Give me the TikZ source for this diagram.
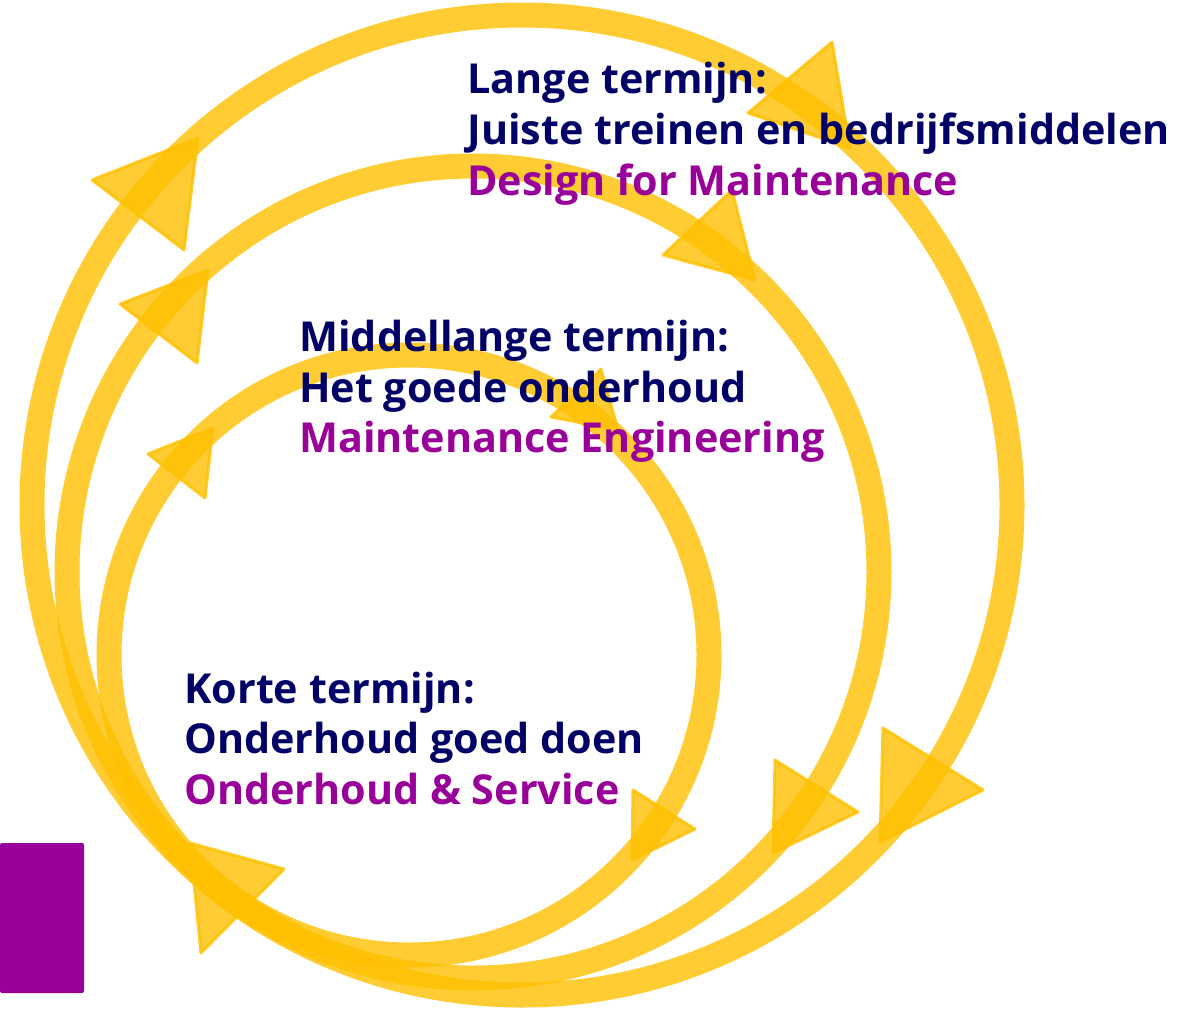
\documentclass[tikz,border=0pt]{standalone}
\usepackage{fontspec}
\setmainfont{Open Sans}
\usetikzlibrary{positioning}
\definecolor{ringyellow}{HTML}{FFC000}
\definecolor{termnavy}{HTML}{000066}
\definecolor{termpurple}{HTML}{990099}

\begin{document}
\begin{tikzpicture}[x=0.02cm, y=-0.02cm,
  ring/.style={draw=ringyellow, draw opacity=0.8, line width=0.5cm},
  pointer/.style={fill=ringyellow, draw=ringyellow, fill opacity=0.8, draw opacity=0.8, line width=0.06cm, line join=round},
  termline/.style={anchor=base west, inner sep=0pt, font=\bfseries\fontsize{23.5pt}{28.9pt}\selectfont}]
  \useasboundingbox (0,0) rectangle (1183,1011);

  % centres of the three cycles
  \coordinate (outer) at (522,505);
  \coordinate (middle) at (473,572);
  \coordinate (inner) at (409,655);

  \draw[ring] (outer) circle[radius=490];
  \draw[ring] (middle) circle[radius=406];
  \draw[ring] (inner) circle[radius=300];

  % arrow heads, outer cycle
  \draw[pointer] (198,138) -- (92,180) -- (184,250) -- cycle;
  \draw[pointer] (832,42) -- (748,113) -- (850,148) -- cycle;
  \draw[pointer] (883,728) -- (983,790) -- (880,842) -- cycle;
  % middle cycle
  \draw[pointer] (208,270) -- (120,304) -- (197,363) -- cycle;
  \draw[pointer] (732,190) -- (663,255) -- (755,280) -- cycle;
  \draw[pointer] (775,760) -- (858,812) -- (773,853) -- cycle;
  % inner cycle
  \draw[pointer] (213,428) -- (148,454) -- (205,498) -- cycle;
  \draw[pointer] (601,369) -- (551,417) -- (618,430) -- cycle;
  \draw[pointer] (633,790) -- (695,829) -- (632,860) -- cycle;
  % common head
  \draw[pointer] (190,843) -- (284,869) -- (201,953) -- cycle;

  \fill[termpurple, rounded corners=0.04cm] (0,843) rectangle (84,993);

  \node[termline, termnavy] (lang1) at (467,93) {Lange termijn:};
  \node[termline, termnavy] (lang2) at (467,144) {Juiste treinen en bedrijfsmiddelen};
  \node[termline, termpurple] (lang3) at (467,195) {Design for Maintenance};

  \node[termline, termnavy] (mid1) at (299,351) {Middellange termijn:};
  \node[termline, termnavy] (mid2) at (299,402) {Het goede onderhoud};
  \node[termline, termpurple] (mid3) at (299,452) {Maintenance Engineering};

  \node[termline, termnavy] (kort1) at (184,703) {Korte termijn:};
  \node[termline, termnavy] (kort2) at (184,753) {Onderhoud goed doen};
  \node[termline, termpurple] (kort3) at (184,804) {Onderhoud \& Service};
\end{tikzpicture}
\end{document}
